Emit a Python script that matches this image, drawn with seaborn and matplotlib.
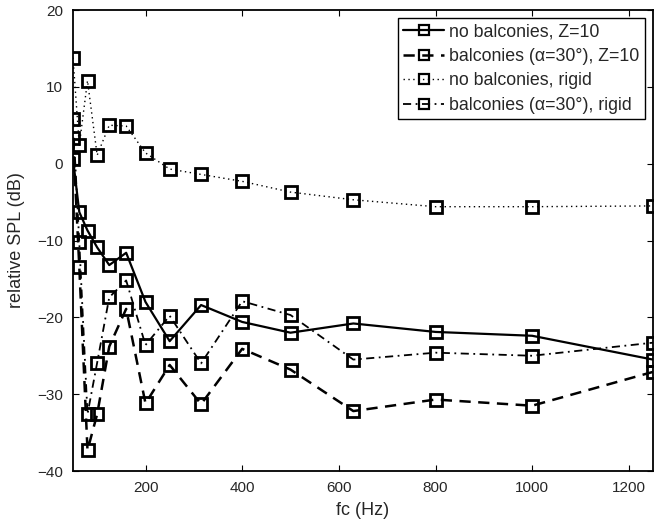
import matplotlib
matplotlib.use("Agg")
import matplotlib.pyplot as plt
import seaborn as sns
import pandas as pd

freq = [50, 63, 80, 100, 125, 160, 200, 250, 315, 400, 500, 630, 800, 1000, 1250]

no_balc_z10 = [0.6, -6.3, -8.7, -10.9, -13.2, -11.6, -18.0, -23.1, -18.4, -20.6, -22.0, -20.8, -21.9, -22.4, -25.5]
balc_z10 = [3.4, -13.4, -37.3, -32.6, -23.8, -18.9, -31.2, -26.2, -31.3, -24.1, -26.8, -32.2, -30.7, -31.5, -27.1]
no_balc_rigid = [13.8, 2.4, 10.8, 1.1, 5.0, 4.9, 1.4, -0.7, -1.4, -2.3, -3.7, -4.7, -5.6, -5.6, -5.5]
balc_rigid = [5.8, -10.2, -32.6, -25.9, -17.4, -15.2, -23.6, -19.8, -26.0, -17.9, -19.7, -25.5, -24.6, -25.0, -23.3]

labels = ["no balconies, Z=10", "balconies (α=30°), Z=10",
          "no balconies, rigid", "balconies (α=30°), rigid"]
series = [no_balc_z10, balc_z10, no_balc_rigid, balc_rigid]

xticks = [200, 400, 600, 800, 1000, 1200]
yticks = [-40, -30, -20, -10, 0, 10, 20]

sns.set_style("white")
plt.rcParams['font.family'] = ['Liberation Sans', 'DejaVu Sans']

fig = plt.figure(figsize=(6.54, 5.25), dpi=100)
ax = fig.add_axes([73 / 654, 1 - 471 / 525, 580 / 654, 461 / 525])

styles = [
    dict(linestyle='-', linewidth=1.6),
    dict(linestyle=(0, (4.5, 3)), linewidth=1.8),
    dict(linestyle=(0, (1, 2.5)), linewidth=1.0),
    dict(linestyle=(0, (4.5, 2.5, 1, 2.5)), linewidth=1.3),
]

for vals, lab, st in zip(series, labels, styles):
    df = pd.DataFrame({"fc": freq, "spl": vals})
    sns.lineplot(data=df, x="fc", y="spl", ax=ax, color='k', marker='s',
                 markersize=8.5, markerfacecolor='none', markeredgecolor='k',
                 markeredgewidth=2.0, label=lab, sort=False, **st)

ax.set_xlim(50, 1250)
ax.set_ylim(-40, 20)
ax.set_xticks(xticks)
ax.set_yticks(yticks)
ax.set_yticklabels([f"{v}".replace('-', '\u2212') for v in yticks])
ax.set_xlabel("fc (Hz)", fontsize=13, labelpad=5)
ax.set_ylabel("relative SPL (dB)", fontsize=13, labelpad=9)
ax.tick_params(direction='in', length=4, width=0.8, labelsize=11,
               top=True, right=True, bottom=True, left=True, color='k', pad=7)
for s in ax.spines.values():
    s.set_color('k')
    s.set_linewidth(1.3)

leg = ax.legend(loc='upper right', fontsize=12.8, frameon=True, fancybox=False,
                edgecolor='k', handlelength=2.3, handletextpad=0.3,
                borderpad=0.3, labelspacing=0.42, borderaxespad=0.45,
                markerscale=0.8)
leg.get_frame().set_linewidth(1.0)
leg.get_frame().set_alpha(1)
for h in leg.legend_handles:
    h.set_markeredgewidth(1.6)

fig.savefig("out.png", dpi=100)
